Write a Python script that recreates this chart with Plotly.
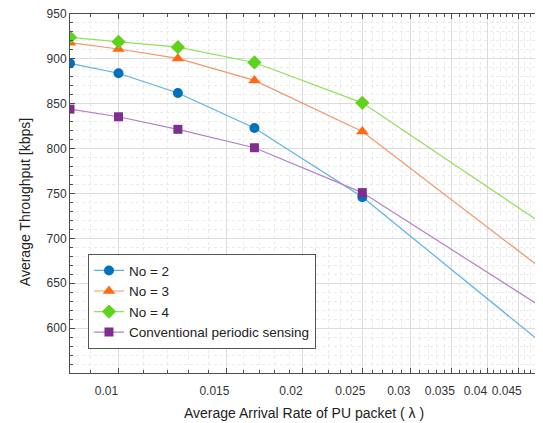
import plotly.graph_objects as go
import numpy as np

# Data
arrival_rate = [1/120, 1/100, 1/80, 1/60, 1/40, 1/20]
no2 = [895, 884, 862, 823, 746, 579]
no3 = [918, 911, 900.5, 876, 819, 662]
no4 = [924, 919, 913, 896, 851, 713]
conventional = [844, 835.5, 821.5, 801, 751, 620]

series_names = ["No = 2", "No = 3", "No = 4", "Conventional periodic sensing"]
x_major_ticks = [0.01, 0.015, 0.02, 0.025, 0.03, 0.035, 0.04, 0.045]
x_tick_labels = ["0.01", "0.015", "0.02", "0.025", "0.03", "0.035", "0.04", "0.045"]
x_minor_ticks = [0.009] + [round(0.010 + 0.001 * i, 3) for i in range(1, 40)]
y_major_ticks = [600, 650, 700, 750, 800, 850, 900, 950]

styles = [
    dict(line="#5AB2E6", marker="#0072BD", symbol="circle", size=10),
    dict(line="#F4956A", marker="#FF6A13", symbol="triangle-up", size=11),
    dict(line="#8EE25A", marker="#5FD31B", symbol="diamond", size=11),
    dict(line="#B380C6", marker="#7E2F8E", symbol="square", size=9),
]

fig = go.Figure()
for name, ys, st in zip(series_names, [no2, no3, no4, conventional], styles):
    fig.add_trace(go.Scatter(
        x=arrival_rate, y=ys, name=name, mode="lines+markers",
        line=dict(color=st["line"], width=1.2),
        marker=dict(color=st["marker"], symbol=st["symbol"], size=st["size"],
                    line=dict(width=0)),
    ))

axis_color = "#4D4D4D"
title_font = dict(family="Liberation Sans, Arial, sans-serif", size=14, color="#222222")
fig.update_layout(
    width=535, height=415,
    margin=dict(l=62, r=0, t=6, b=50, autoexpand=False),
    paper_bgcolor="white", plot_bgcolor="white",
    font=dict(family="Liberation Sans, Arial, sans-serif", size=12, color="#333333"),
    showlegend=True,
    legend=dict(
        x=0.038, y=0.331, xanchor="left", yanchor="top",
        bordercolor="#555555", borderwidth=1, bgcolor="white",
        font=dict(size=13.5, color="#222222"),
        itemwidth=30, tracegroupgap=0,
    ),
    annotations=[
        dict(text="Average Arrival Rate of PU packet ( λ )", xref="paper", yref="paper",
             x=0.495, y=-0.111, xanchor="center", yanchor="middle", showarrow=False,
             font=title_font),
        dict(text="Average Throughput [kbps]", xref="paper", yref="paper",
             x=-0.095, y=0.476, xanchor="center", yanchor="middle", showarrow=False,
             textangle=-90, font=title_font),
    ],
)
fig.update_xaxes(
    type="log", automargin=False,
    range=[np.log10(1/120), np.log10(0.0493)],
    tickvals=x_major_ticks, ticktext=x_tick_labels,
    ticks="inside", ticklen=5, tickcolor=axis_color,
    ticklabelshift=-12, ticklabelstandoff=7, ticklabeloverflow="allow",
    showline=True, linecolor=axis_color, linewidth=1, mirror="allticks",
    showgrid=True, gridcolor="#DCDCDC", gridwidth=1,
    tickfont=dict(size=12, color="#333333"),
    minor=dict(tickvals=x_minor_ticks, ticks="inside", ticklen=3, tickcolor=axis_color,
               showgrid=True, gridcolor="#EAEAEA", griddash="dot", gridwidth=1),
    zeroline=False,
)
fig.update_yaxes(
    range=[550, 950], automargin=False,
    tickvals=y_major_ticks,
    ticks="inside", ticklen=5, tickcolor=axis_color, ticklabeloverflow="allow",
    showline=True, linecolor=axis_color, linewidth=1, mirror="allticks",
    showgrid=True, gridcolor="#DCDCDC", gridwidth=1,
    tickfont=dict(size=12, color="#333333"),
    minor=dict(dtick=10, ticks="inside", ticklen=3, tickcolor=axis_color,
               showgrid=True, gridcolor="#EAEAEA", griddash="dot", gridwidth=1),
    zeroline=False,
)

fig.write_html("out.html")
